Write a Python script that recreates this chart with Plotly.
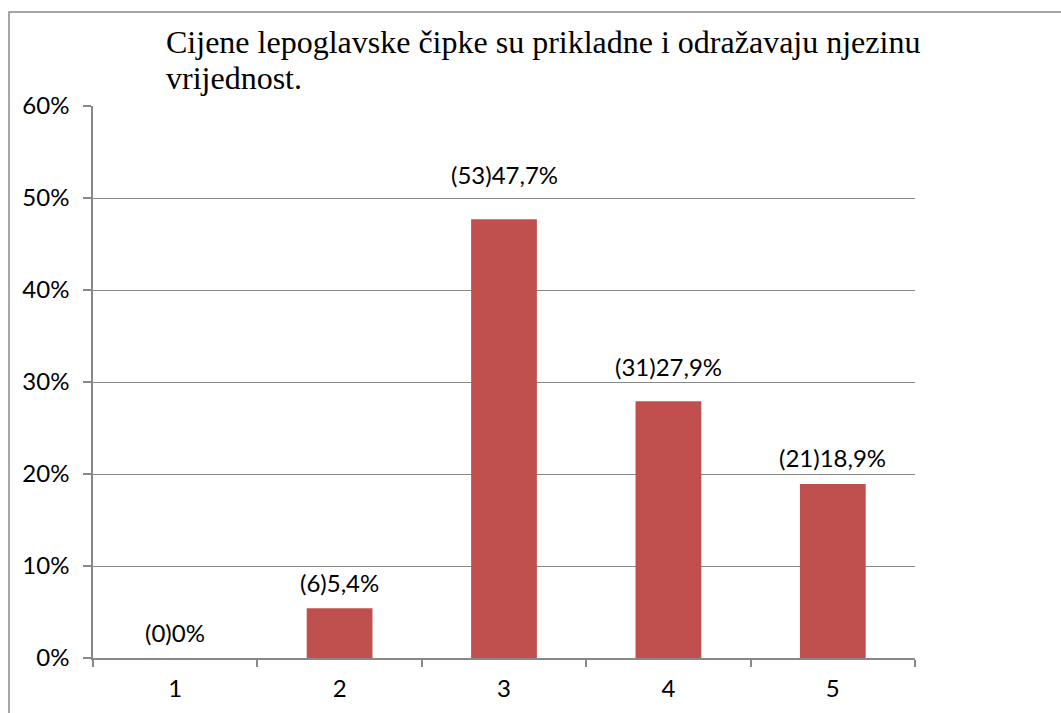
import plotly.graph_objects as go

categories = ["1", "2", "3", "4", "5"]
counts = [0, 6, 53, 31, 21]
shares = [0.0, 0.054, 0.477, 0.279, 0.189]
labels = ["(0)0%", "(6)5,4%", "(53)47,7%", "(31)27,9%", "(21)18,9%"]
title_lines = ["Cijene lepoglavske čipke su prikladne i odražavaju njezinu", "vrijednost."]

# label offset above bar top (pixels) as placed in the original
label_shift = [26, 26, 45, 35, 27]

W, H = 1061, 713
L, R, T, B = 93, 915, 106, 658
SANS = "Lato, Open Sans, sans-serif"
SERIF = "Liberation Serif, Times New Roman, serif"

fig = go.Figure(go.Bar(
    x=categories, y=shares,
    marker=dict(color="#C0504D", line=dict(width=0)),
    hoverinfo="skip",
))

fig.update_layout(
    width=W, height=H,
    margin=dict(l=L, r=W - R, t=T, b=H - B, pad=0, autoexpand=False),
    paper_bgcolor="white", plot_bgcolor="white",
    bargap=0.6,
    showlegend=False,
    font=dict(family=SANS, size=24, color="#000"),
)
fig.update_yaxes(range=[0, 0.6], dtick=0.1, tickformat=".0%", automargin=False,
                 showgrid=True, gridcolor="#888888", gridwidth=1,
                 showline=True, linecolor="#888888", linewidth=1.5,
                 ticks="outside", ticklen=8, tickcolor="#888888", tickwidth=1.5,
                 tickfont=dict(size=24), zeroline=False, ticklabelstandoff=9)
fig.update_xaxes(type="category", automargin=False,
                 showline=True, linecolor="#888888", linewidth=2,
                 ticks="outside", tickson="boundaries", ticklen=7,
                 tickcolor="#888888", tickwidth=1.5, showgrid=False,
                 tickfont=dict(size=24), ticklabelstandoff=8)

for i, (v, t, s) in enumerate(zip(shares, labels, label_shift)):
    fig.add_annotation(x=i, y=v, xref="x", yref="y", text=t, showarrow=False,
                       yanchor="middle", yshift=s,
                       font=dict(family=SANS, size=24, color="#000"))

title_baselines = [53, 89]
for line, yb in zip(title_lines, title_baselines):
    fig.add_annotation(x=(165 - L) / (R - L), xref="paper", xanchor="left",
                       y=(B - yb - 8) / (B - T), yref="paper", yanchor="bottom",
                       text=line, showarrow=False, borderpad=0,
                       font=dict(family=SERIF, size=32, color="#000"))

# outer chart border
fig.add_shape(type="rect", xref="paper", yref="paper",
              x0=(9 - L) / (R - L), x1=(1070 - L) / (R - L),
              y0=(B - 720) / (B - T), y1=(B - 12) / (B - T),
              line=dict(color="#888888", width=1.5), layer="below")

fig.write_html("out.html", config={"displayModeBar": False},
               post_script="document.body.style.margin='0px';document.body.style.overflow='hidden';")
